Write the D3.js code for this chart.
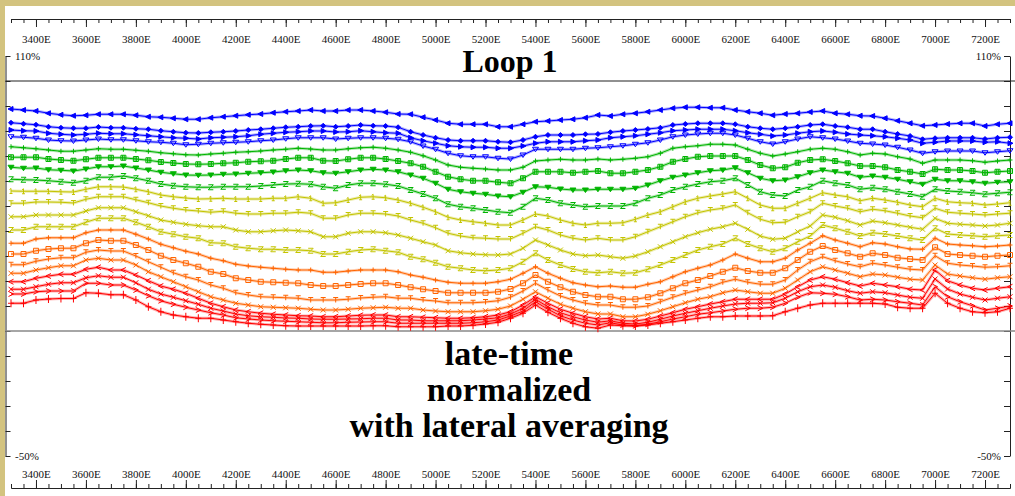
<!DOCTYPE html>
<html><head><meta charset="utf-8">
<script src="https://cdn.jsdelivr.net/npm/d3@7"></script>
<style>
html,body{margin:0;padding:0;background:#fff;}
svg{display:block;}
</style></head><body>
<svg id="chart" width="1015" height="496"></svg>
<script>
// ---- categories (stations, E) ----
const stations = [3300,3350,3400,3450,3500,3550,3600,3650,3700,3750,3800,3850,3900,3950,4000,4050,4100,4150,4200,4250,4300,4350,4400,4450,4500,4550,4600,4650,4700,4750,4800,4850,4900,4950,5000,5050,5100,5150,5200,5250,5300,5350,5400,5450,5500,5550,5600,5650,5700,5750,5800,5850,5900,5950,6000,6050,6100,6150,6200,6250,6300,6350,6400,6450,6500,6550,6600,6650,6700,6750,6800,6850,6900,6950,7000,7050,7100,7150,7200,7250,7300];

// ---- tick labels ----
const xLabelValues = [3400,3600,3800,4000,4200,4400,4600,4800,5000,5200,5400,5600,5800,6000,6200,6400,6600,6800,7000,7200];
const xLabels = ["3400E","3600E","3800E","4000E","4200E","4400E","4600E","4800E","5000E","5200E","5400E","5600E","5800E","6000E","6200E","6400E","6600E","6800E","7000E","7200E"];
const yTickValues = [-50,-40,-30,-20,-10,0,10,20,30,40,50,60,70,80,90,100,110];
const yLabelValues = [110,-50];
const yLabels = ["110%","-50%"];

// ---- series values (%) ----
const s01 = [88.8,88.4,88.0,87.1,86.5,86.1,86.3,86.7,86.7,86.7,86.3,85.7,85.5,85.1,84.7,84.7,
 85.3,85.7,86.1,86.5,86.8,87.3,87.7,88.0,88.4,88.0,88.0,88.4,88.4,88.0,87.5,86.8,
 86.7,85.5,84.4,83.1,82.7,82.7,82.7,81.7,81.7,82.7,83.7,84.0,84.4,84.7,85.3,86.4,
 86.0,86.7,87.1,87.7,88.4,89.1,89.5,89.5,89.3,89.3,88.4,87.7,87.1,86.3,86.8,87.1,87.6,
 88.0,87.1,86.7,86.1,86.0,85.1,84.1,83.1,82.1,82.4,82.8,83.1,83.1,82.0,82.7,83.1];
const s02 = [83.3,82.9,82.5,81.7,81.3,81.1,81.1,81.6,81.3,81.3,80.9,80.7,80.1,79.7,79.3,79.2,
 79.5,79.7,80.0,80.4,80.7,81.1,81.5,81.7,82.0,82.1,81.7,82.0,82.4,82.1,82.0,81.5,
 79.7,78.4,77.3,76.4,76.1,76.1,76.1,75.7,75.5,76.4,77.7,78.4,78.4,78.4,78.7,78.8,
 79.5,80.0,80.4,80.8,81.3,82.4,82.8,83.1,83.1,83.1,82.7,81.7,81.1,80.7,81.1,81.7,82.4,
 82.7,82.0,81.5,80.7,80.7,79.7,78.8,78.0,76.7,77.1,77.3,77.3,77.3,76.8,77.3,77.5];
const s03 = [80.4,80.1,80.0,79.1,78.7,78.4,78.7,79.1,78.9,78.9,78.5,78.1,77.7,77.3,77.1,76.8,
 77.3,77.5,77.7,78.1,78.7,79.1,79.5,79.7,80.0,80.0,79.6,79.7,80.1,79.7,79.3,79.1,
 77.3,76.1,75.1,74.1,73.7,73.5,73.5,73.1,73.1,74.0,75.1,75.7,75.7,75.7,76.1,76.4,
 77.3,77.7,78.1,78.7,79.3,80.1,80.4,80.7,80.7,80.7,80.1,79.3,78.7,78.0,78.4,79.1,79.7,
 80.0,79.5,78.8,78.4,78.1,77.7,77.1,76.4,75.1,75.5,76.0,76.0,76.0,75.5,75.7,75.1];
const s04 = [77.7,77.5,77.1,76.4,76.1,76.0,76.4,76.8,76.5,76.5,76.1,75.7,75.5,75.1,74.5,74.7,
 75.1,75.3,75.5,75.7,76.1,76.4,76.9,77.3,77.3,77.3,76.8,77.1,77.3,77.3,77.1,76.7,
 75.7,74.0,72.7,71.1,70.1,69.7,69.7,69.1,68.8,70.4,72.7,72.7,72.7,72.7,73.1,73.3,
 73.7,74.1,74.7,75.3,76.4,77.7,78.4,78.8,79.1,79.1,78.4,77.1,75.7,74.8,75.7,76.8,77.7,
 77.3,76.8,76.0,75.1,74.8,74.4,73.5,72.4,71.1,71.7,72.0,72.0,72.0,71.3,71.7,72.1];
const s05 = [73.7,73.3,72.9,72.4,71.9,71.9,72.4,72.9,72.7,72.7,72.3,71.9,71.3,70.9,70.5,70.4,
 70.8,71.1,71.5,71.7,72.0,72.4,72.7,73.1,72.8,72.4,72.4,72.9,73.3,73.5,73.1,72.4,
 71.5,70.1,68.4,66.4,65.5,65.1,64.8,64.4,64.4,65.5,68.0,68.4,68.7,68.4,68.4,68.8,
 68.4,68.7,69.1,69.7,71.1,73.1,73.7,74.1,74.7,74.7,74.4,72.7,71.1,70.0,70.8,71.7,72.7,
 73.1,72.7,71.7,70.4,71.1,70.8,69.7,68.8,67.1,68.4,68.4,68.4,68.1,67.5,68.0,68.4];
const s06 = [69.5,69.5,69.5,68.8,68.4,68.1,68.7,69.3,69.3,69.3,68.8,68.3,67.6,67.2,66.8,66.7,
 66.8,67.1,67.3,67.7,67.9,68.1,68.8,69.3,69.3,68.1,68.0,68.7,69.3,69.3,68.8,68.0,
 67.1,65.7,63.7,61.7,60.7,60.1,60.1,59.5,59.1,61.1,63.7,63.7,63.7,63.3,63.7,64.0,
 63.1,63.1,63.7,64.4,65.7,67.7,68.8,69.7,70.0,70.0,70.0,68.4,66.4,65.1,65.5,67.3,68.4,
 68.7,68.0,67.1,66.0,66.0,65.5,64.4,63.7,62.8,64.7,64.4,64.4,64.0,63.3,63.7,64.0];
const s07 = [65.5,65.1,65.2,64.5,64.3,64.0,64.8,65.7,65.7,66.0,65.2,64.4,63.5,62.9,62.4,62.3,
 62.4,62.7,62.8,63.1,63.3,63.6,64.1,64.4,64.1,63.3,63.1,63.7,64.4,64.7,64.4,63.7,
 62.4,61.1,59.1,56.7,55.7,55.1,54.7,54.0,53.7,55.5,57.7,57.5,56.8,56.4,56.4,56.7,
 56.7,56.7,57.1,58.4,60.1,61.5,62.4,63.3,64.1,64.4,65.3,63.3,61.1,60.1,60.4,61.7,63.3,
 64.4,63.7,63.1,61.5,62.0,61.5,60.7,59.7,58.7,60.7,60.1,60.1,59.7,59.1,59.5,59.7];
const s08 = [60.7,60.5,60.4,60.1,59.7,59.3,60.1,61.5,61.5,62.0,61.1,60.1,58.8,58.1,57.7,57.5,
 57.5,57.7,57.7,57.7,58.0,58.4,58.8,58.9,58.7,57.7,57.1,58.4,59.1,59.1,58.7,58.0,
 56.4,54.8,53.1,50.7,49.7,49.1,48.4,47.7,47.3,49.7,53.1,52.4,51.1,50.4,49.7,50.0,
 50.0,50.0,51.1,53.1,54.4,56.4,57.7,58.8,59.7,60.1,61.1,58.4,55.7,54.4,54.0,56.4,57.7,
 60.1,59.1,58.4,56.7,57.3,56.7,55.7,54.8,53.7,56.7,56.0,55.7,55.3,54.7,55.1,55.5];
const s09 = [56.0,55.9,55.9,55.9,55.7,55.6,56.7,57.7,57.7,57.6,56.7,55.7,54.4,53.7,53.2,52.8,
 52.9,53.1,52.8,52.8,52.8,53.1,53.1,53.7,53.1,51.1,51.3,52.4,53.5,53.7,53.3,52.4,
 51.1,49.5,47.7,45.5,44.4,43.7,43.1,42.4,42.4,44.4,46.8,46.0,44.4,43.1,42.4,43.1,
 43.1,43.3,44.7,46.4,47.7,49.7,51.7,53.1,54.0,54.8,55.7,53.1,50.4,49.1,49.1,51.1,53.1,
 55.3,54.4,53.7,52.1,53.1,52.4,51.5,50.4,49.7,53.1,51.7,51.3,51.1,50.4,50.8,51.3];
const s10 = [51.1,51.1,51.6,51.6,51.5,51.2,52.7,53.7,53.7,53.7,52.5,51.3,50.0,49.1,48.4,48.0,
 47.5,47.9,47.1,46.8,46.8,47.1,47.1,47.5,47.1,45.1,45.1,46.4,47.1,47.1,46.8,46.0,
 44.4,43.1,41.3,39.1,38.0,37.3,37.1,36.8,36.8,39.1,41.7,40.4,38.4,37.1,36.4,37.1,
 36.4,36.4,37.7,39.7,41.7,43.7,45.7,47.3,48.4,49.1,50.4,47.3,44.7,43.3,43.5,45.7,47.7,
 51.1,50.0,49.1,47.7,48.7,48.1,47.1,46.0,45.3,49.1,47.5,47.1,46.8,46.4,46.8,47.1];
const s11 = [45.7,45.7,46.4,46.4,46.4,46.4,48.0,49.3,49.3,49.3,47.7,46.1,44.4,43.5,42.7,42.1,
 41.7,41.7,40.4,39.7,39.7,40.1,40.4,40.1,39.7,37.7,37.7,39.1,39.7,39.7,39.3,38.4,
 37.1,35.7,34.4,32.1,31.3,30.8,30.5,30.4,30.8,33.1,36.4,34.4,32.4,30.8,30.1,30.4,
 29.7,29.1,30.0,31.7,33.7,35.7,37.7,39.3,40.7,41.7,43.1,40.7,38.0,36.7,37.1,39.7,42.0,
 46.4,45.5,44.1,42.4,44.0,43.3,42.4,41.5,40.7,45.1,43.1,42.7,42.4,42.0,42.4,43.1];
const s12 = [40.4,40.4,41.7,41.7,41.7,41.7,43.5,45.1,45.1,45.1,43.5,41.7,39.7,38.7,37.7,37.1,
 35.3,35.1,33.7,33.1,32.7,32.7,32.4,32.4,32.1,30.8,30.8,31.7,32.4,32.7,32.1,31.5,
 29.7,28.7,27.3,25.7,25.1,24.4,24.1,24.4,25.1,27.7,31.1,28.4,26.4,24.8,23.7,23.3,
 23.7,23.1,23.3,24.7,26.4,28.4,30.4,32.4,33.7,34.8,37.1,34.8,33.1,31.7,33.1,35.7,38.0,
 42.4,41.1,39.7,38.0,39.3,38.8,38.0,37.1,36.4,41.1,38.8,38.4,38.1,37.7,38.1,38.4];
const s13 = [35.1,35.1,36.8,37.3,37.3,37.3,39.3,40.4,40.4,40.4,38.7,36.8,34.7,33.3,31.9,30.8,
 29.1,28.1,26.7,26.0,25.5,25.1,24.7,24.4,24.4,23.5,23.5,24.0,24.4,24.4,24.4,23.7,
 22.4,21.5,20.4,19.5,19.1,19.1,19.1,19.7,20.7,23.1,25.7,23.1,21.1,19.3,18.4,17.7,
 18.0,17.5,17.5,18.7,19.7,21.7,23.7,25.1,26.4,28.4,30.8,29.1,27.7,27.7,29.1,32.4,35.1,
 38.1,36.4,35.1,33.7,35.3,34.8,33.7,32.8,32.7,37.1,34.8,34.4,34.1,33.7,34.0,34.4];
const s14 = [30.8,30.8,32.1,32.8,33.1,33.1,35.1,36.4,36.1,36.1,34.4,32.4,30.1,28.4,27.1,25.7,
 23.7,22.8,21.1,20.4,19.7,19.5,19.3,19.1,18.4,18.0,18.0,18.4,18.8,19.1,19.1,18.4,
 17.5,16.7,16.0,15.3,15.3,15.3,15.3,15.7,16.8,19.1,22.4,19.7,17.5,15.7,14.4,13.7,
 13.7,12.7,12.7,13.5,15.1,17.1,19.1,20.4,22.0,23.7,25.3,24.0,23.3,23.3,25.1,28.4,31.7,
 34.0,32.4,31.1,29.7,31.1,30.4,29.3,28.8,28.4,33.5,30.8,30.4,30.1,29.7,30.1,30.4];
const s15 = [26.5,26.5,27.9,28.8,29.3,29.3,31.5,32.4,32.0,32.0,30.0,27.7,25.5,23.3,21.7,20.4,
 18.4,17.1,15.3,14.4,13.7,13.5,13.3,13.1,12.4,12.4,12.4,12.7,13.2,13.5,13.7,13.1,
 13.1,12.4,12.0,11.3,11.3,11.3,11.6,12.1,13.5,16.0,19.1,16.4,14.0,12.4,11.1,10.4,
 10.4,9.5,9.5,10.0,11.7,13.5,15.1,16.4,17.7,19.5,20.7,19.5,18.7,18.7,20.4,24.4,27.7,
 29.7,28.1,26.8,25.7,27.1,26.4,25.5,24.7,24.4,30.1,27.1,26.4,26.0,25.5,25.7,26.1];
const s16 = [23.1,23.1,24.4,25.3,26.1,26.1,28.4,29.1,28.4,28.4,26.4,23.7,21.7,19.7,17.7,15.7,
 13.7,12.4,11.1,10.4,9.7,9.5,9.3,9.1,8.7,8.4,8.4,8.7,9.1,9.3,9.5,9.1,
 9.1,8.4,8.0,7.7,7.7,7.7,8.1,8.7,10.0,12.7,15.7,13.1,10.7,9.1,7.7,6.8,
 6.8,5.7,5.7,6.7,8.1,9.7,11.3,12.7,13.7,15.3,16.4,15.7,15.1,15.1,17.1,20.4,23.7,
 25.7,24.4,23.1,21.7,22.8,22.4,21.5,20.7,20.4,26.4,22.8,22.0,21.3,20.7,21.3,21.7];
const s17 = [19.7,19.7,21.1,22.0,22.7,22.7,24.7,25.5,24.4,24.4,22.4,20.1,18.0,16.7,15.1,13.1,
 11.1,9.7,8.4,7.7,7.1,6.7,6.4,6.1,6.0,5.7,5.7,6.0,6.3,6.4,6.4,5.7,
 5.7,5.5,5.3,5.1,5.1,5.3,5.7,6.4,7.7,10.4,13.7,11.1,8.7,7.1,5.7,4.8,
 5.1,4.1,4.0,4.7,6.0,7.3,8.7,9.7,10.8,11.7,12.7,12.7,12.7,12.7,14.8,17.7,20.4,
 21.7,20.7,19.3,18.0,19.1,18.4,17.7,16.7,16.4,24.4,20.1,18.4,17.1,16.4,17.1,17.7];
const s18 = [16.7,16.7,17.7,18.7,19.3,19.3,21.3,22.1,21.5,21.5,19.3,16.7,14.8,13.5,12.1,10.7,
 9.1,8.0,6.8,6.1,5.7,5.5,5.2,5.1,4.8,4.7,4.7,4.8,4.9,5.1,5.1,4.4,
 4.4,4.1,4.1,4.1,4.1,4.4,4.8,5.3,6.8,9.1,12.7,9.7,7.3,5.7,4.4,3.5,
 4.1,3.1,2.8,3.5,4.7,6.0,7.1,8.1,9.1,10.0,10.8,11.1,11.1,11.3,13.1,15.7,17.7,
 18.4,17.5,16.1,15.1,15.7,15.3,14.4,13.5,13.1,20.8,16.8,14.8,13.5,12.4,13.1,13.7];
const s19 = [14.8,14.8,15.7,16.0,16.0,16.0,19.1,19.1,18.4,18.4,16.4,14.1,12.1,10.7,9.5,8.4,
 7.3,6.4,5.3,4.8,4.4,4.1,3.9,3.7,3.5,3.3,3.3,3.5,3.6,3.7,3.7,3.1,
 3.1,3.1,3.1,3.1,3.1,3.3,3.7,4.4,6.0,8.0,11.7,8.7,6.1,4.4,3.1,2.4,
 3.3,2.4,2.1,2.7,3.7,4.8,5.7,6.7,7.3,8.0,8.7,9.1,9.1,9.5,11.1,13.5,15.3,
 15.1,14.7,13.7,12.4,12.7,12.4,11.7,11.1,10.4,17.7,13.7,11.7,10.1,8.4,9.1,10.0];
const s20 = [11.1,11.1,12.4,12.8,13.0,13.0,15.3,15.1,14.5,14.5,12.4,9.7,7.7,6.4,5.7,5.1,
 5.1,4.4,3.7,3.1,2.7,2.4,2.1,2.0,2.0,2.0,2.0,2.0,2.0,2.1,2.1,1.7,
 1.7,1.7,1.7,2.0,2.0,2.3,2.8,3.5,5.1,7.1,10.4,7.5,5.1,3.1,1.7,1.1,
 2.4,2.1,2.0,2.4,3.1,3.7,4.4,5.1,5.7,5.7,6.0,6.0,6.0,6.1,7.7,9.1,10.4,
 11.1,11.1,11.1,11.1,11.1,10.8,9.5,9.1,9.1,15.1,11.1,9.1,7.7,7.3,7.7,9.1];

const seriesList = [s01,s02,s03,s04,s05,s06,s07,s08,s09,s10,s11,s12,s13,s14,s15,s16,s17,s18,s19,s20];

// ---- styles ----
const groupColors = ["#0000ff","#00b400","#c4c400","#ff6400","#ff0000"];
const markerTypes = ["tl","dia","tr","tdo","plus","hg","td","z","one","t","x","z","plus","sq","t","x","lt","x","gt","bigplus"];
const markerPaths = {
  tl:"M-3,0L2,-2.5L2,2.5Z", dia:"M0,-2.5L2.5,0L0,2.5L-2.5,0Z", tr:"M3,0L-2,-2.5L-2,2.5Z",
  tdo:"M-3,-2L3,-2L0,2.5Z", td:"M-3,-2L3,-2L0,2.5Z", plus:"M-2.5,0H2.5M0,-2.5V2.5",
  sq:"M-2.5,-2.5H2.5V2.5H-2.5Z", hg:"M-2.5,-2.5H2.5V2.5H-2.5ZM-0.8,-2.5V2.5M0.8,-2.5V2.5",
  z:"M-2.5,-2.5H2.5L-2.5,2.5H2.5", t:"M-2.5,-2.5H2.5M0,-2.5V2.5",
  x:"M-2.5,-2.5L2.5,2.5M2.5,-2.5L-2.5,2.5", lt:"M2.5,-2.5L-2.5,0L2.5,2.5",
  gt:"M-2.5,-2.5L2.5,0L-2.5,2.5", bigplus:"M-3,0H3M0,-4V4", one:"M-1.5,-1.5L0,-2.5V2.5M-1.5,2.5H1.5"
};
const filledMarkers = ["tl","dia","tr","td"];

const W = 1015, H = 496;
const svg = d3.select("#chart");
svg.append("rect").attr("width", W).attr("height", H).attr("fill", "#fff");
svg.append("rect").attr("x",0).attr("y",0).attr("width",W).attr("height",6).attr("fill","#d3c37f");
svg.append("rect").attr("x",0).attr("y",0).attr("width",5).attr("height",H).attr("fill","#d3c37f");

const x = d3.scaleLinear().domain([3300,7300]).range([11,1010]);
const y = d3.scaleLinear().domain([-50,110]).range([456,56]);

const tickFont = "'Liberation Serif', 'Times New Roman', serif";
function styleAxis(g){
  g.selectAll("path.domain").attr("stroke","#222");
  g.selectAll(".tick line").attr("stroke","#222");
  g.selectAll("text").attr("font-family", tickFont).attr("font-size", 11).attr("fill","#111");
}

// top axis
const topMinor = svg.append("g").attr("transform","translate(0,19)")
  .call(d3.axisBottom(x).tickValues(stations).tickSize(4).tickSizeOuter(0).tickFormat(""));
const topMajor = svg.append("g").attr("transform","translate(0,19)")
  .call(d3.axisBottom(x).tickValues(xLabelValues).tickSize(8).tickSizeOuter(0).tickPadding(8)
    .tickFormat((d,i)=>xLabels[i]));
styleAxis(topMinor); styleAxis(topMajor);

// bottom axis
const botMinor = svg.append("g").attr("transform","translate(0,488)")
  .call(d3.axisTop(x).tickValues(stations).tickSize(4).tickSizeOuter(0).tickFormat(""));
const botMajor = svg.append("g").attr("transform","translate(0,488)")
  .call(d3.axisTop(x).tickValues(xLabelValues).tickSize(8).tickSizeOuter(0).tickPadding(2)
    .tickFormat((d,i)=>xLabels[i]));
styleAxis(botMinor); styleAxis(botMajor);

// left / right axes
const yFmt = d => { const k = yLabelValues.indexOf(d); return k >= 0 ? yLabels[k] : ""; };
const leftAx = svg.append("g").attr("transform","translate(5.5,0)")
  .call(d3.axisRight(y).tickValues(yTickValues).tickSize(5).tickSizeOuter(0).tickPadding(4.5).tickFormat(yFmt));
const rightAx = svg.append("g").attr("transform","translate(1010,0)")
  .call(d3.axisLeft(y).tickValues(yTickValues).tickSize(6).tickSizeOuter(0).tickPadding(3).tickFormat(yFmt));
styleAxis(leftAx); styleAxis(rightAx);

// reference lines at 100% and 0%
svg.append("line").attr("x1",5.5).attr("x2",W).attr("y1",y(100)).attr("y2",y(100))
  .attr("stroke","#222").attr("stroke-width",1.2);
svg.append("line").attr("x1",5.5).attr("x2",W).attr("y1",y(0)).attr("y2",y(0))
  .attr("stroke","#888").attr("stroke-width",1.5);

// series
const line = d3.line().x((d,i)=>x(stations[i])).y(d=>y(d));
const gS = svg.append("g");
seriesList.forEach((vals, si) => {
  const col = groupColors[Math.floor(si/4)];
  const g = gS.append("g");
  g.append("path").attr("d", line(vals)).attr("fill","none").attr("stroke",col)
    .attr("stroke-width",3).attr("stroke-opacity",0.3).attr("stroke-linejoin","round");
  g.append("path").attr("d", line(vals)).attr("fill","none").attr("stroke",col)
    .attr("stroke-width",1).attr("stroke-linejoin","round");
  const mt = markerTypes[si];
  const filled = filledMarkers.indexOf(mt) >= 0;
  g.selectAll("path.m").data(vals).enter().append("path").attr("class","m")
    .attr("transform",(d,i)=>`translate(${x(stations[i])},${y(d)})`)
    .attr("d", markerPaths[mt])
    .attr("fill", filled ? col : "none")
    .attr("stroke", col).attr("stroke-width",1);
});

// texts
const titleFont = "'Liberation Serif', 'Times New Roman', serif";
svg.append("text").attr("x",510).attr("y",72).attr("text-anchor","middle")
  .attr("font-family",titleFont).attr("font-weight","bold").attr("font-size",32).attr("fill","#000")
  .text("Loop 1");
const noteLines = ["late-time","normalized","with lateral averaging"];
const noteY = [365,401,437];
noteLines.forEach((t,i)=>{
  svg.append("text").attr("x",509).attr("y",noteY[i]).attr("text-anchor","middle")
    .attr("font-family",titleFont).attr("font-weight","bold").attr("font-size",34).attr("fill","#000")
    .text(t);
});
</script>
</body></html>
